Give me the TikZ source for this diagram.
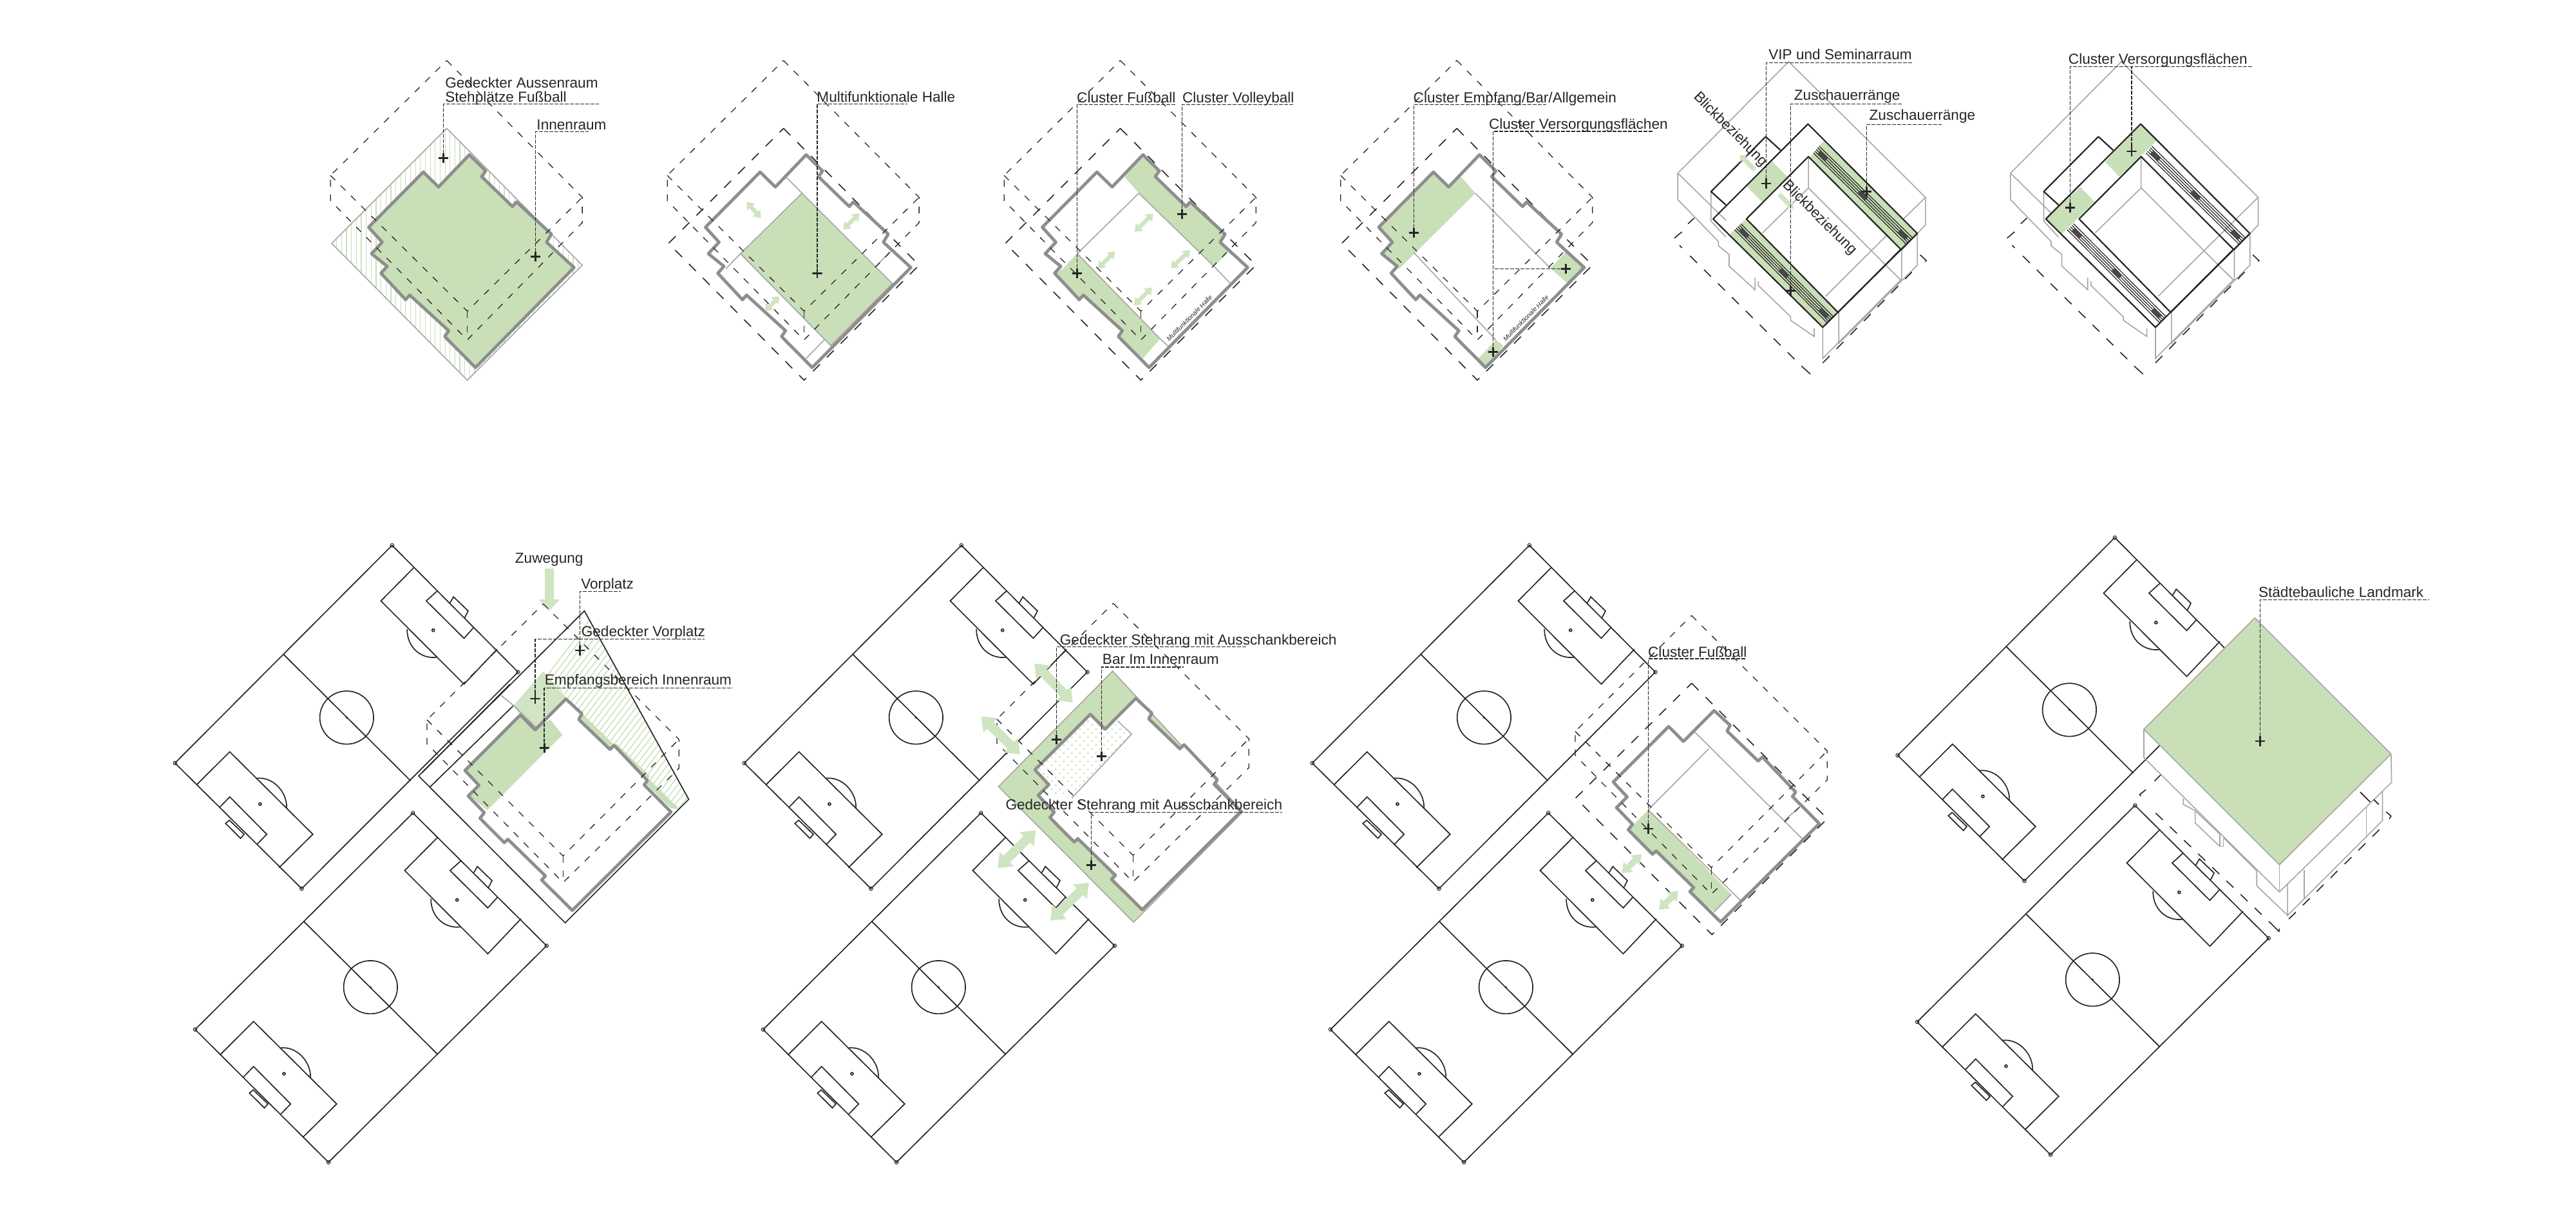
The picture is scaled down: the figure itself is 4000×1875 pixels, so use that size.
\documentclass[tikz,border=0pt]{standalone}
\usepackage{fontspec}
\setmainfont{Liberation Sans}
\usetikzlibrary{arrows.meta,calc}
\definecolor{gfill}{HTML}{C9DFB8}
\definecolor{garrow}{HTML}{CFE4C0}
\definecolor{bgrey}{HTML}{8E8E8E}
\definecolor{tgrey}{HTML}{A6A6A6}
\definecolor{ink}{HTML}{262626}
\tikzset{
 zA/.style={x=0.15944pt,y=-0.08929pt},
 zD/.style={x=0.13550pt,y=-0.15625pt},
 zE/.style={x=0.11161pt,y=-0.08929pt},
 zF/.style={x=0.09568pt,y=-0.09568pt},
 zG/.style={x=0.08333pt,y=-0.08621pt},
 wall/.style={draw=bgrey,line width=1.2pt,line join=round},
 thin grey/.style={draw=tgrey,line width=.4pt},
 dashup/.style={draw=ink,line width=.32pt,dash pattern=on 2.6pt off 3pt},
 dashlong/.style={draw=ink,line width=.4pt,dash pattern=on 3.8pt off 3.8pt},
 pitchline/.style={draw=ink,line width=.42pt},
 frame/.style={draw=ink,line width=.55pt,line join=round},
 leader/.style={draw=ink,line width=.34pt,dash pattern=on 1.5pt off .5pt},
 lab/.style={inner sep=0pt,text=ink,font=\fontsize{5.65}{6.5}\selectfont},
 crossmark/.style={inner sep=0pt,minimum size=3.8pt,path picture={
   \draw[ink,line width=.7pt] (path picture bounding box.north)--(path picture bounding box.south)
     (path picture bounding box.west)--(path picture bounding box.east);}},
 arrS/.style={draw=garrow,line width=1.6pt,{Triangle[width=3.8pt,length=2.6pt]}-{Triangle[width=3.8pt,length=2.6pt]}},
 arrM/.style={draw=garrow,line width=2.4pt,{Triangle[width=5pt,length=3.5pt]}-{Triangle[width=5pt,length=3.5pt]}},
 arrL/.style={draw=garrow,line width=3.6pt,{Triangle[width=7.5pt,length=5pt]}-{Triangle[width=7.5pt,length=5pt]}},
}
% name, x, y, elbow y, end x, text, text x, baseline y
\newcommand{\callout}[8]{%
 \node[crossmark] (#1) at (#2,#3) {};
 \coordinate (#1e) at (#5,#4);
 \draw[leader] (#1.center) |- (#1e);
 \node[lab,anchor=base west] (#1t) at (#7,#8) {#6};
}
% top row building, panel-local coordinates
\newcommand{\bldA}[1]{\path[#1] (390,505)--(430,575)--(420,600)--(495,730)--(505,710)--(590,850)--(578,885)--(645,995)--(405,1430)--(330,1295)--(340,1270)--(245,1115)--(235,1135)--(175,1020)--(190,990)--(152,935)--(178,885)--(145,820)--(278,580)--(315,645)--cycle;}
\newcommand{\dashA}{%
 \draw[dashup] (335,95)--(665,690)--(665,800)--(385,1310)--(52,705)--(52,595)--cycle;
 \draw[dashup] (52,595)--(385,1185)--(665,690);
 \draw[dashup] (385,1185)--(385,1310);}
\newcommand{\groundA}{\draw[dashlong] (335,390)--(665,985)--(385,1485)--(55,890)--cycle;}
% bottom row building
\newcommand{\bldB}[1]{\path[#1] (725,503)--(800,570)--(785,595)--(930,730)--(950,712)--(1105,870)--(1090,890)--(1215,1012)--(755,1455)--(612,1318)--(630,1300)--(455,1135)--(438,1150)--(325,1040)--(345,1015)--(270,940)--(320,892)--(255,825)--(513,575)--(582,642)--cycle;}
\newcommand{\dashB}{%
 \draw[dashup] (620,75)--(1252,685)--(1252,815)--(712,1330)--(78,705)--(78,597)--cycle;
 \draw[dashup] (78,597)--(712,1210)--(1252,685);
 \draw[dashup] (712,1210)--(712,1330);}
% football pitch: outer corners and centre line differ between the two pitches
\newcommand{\pitch}[6]{%
 \draw[pitchline] (#1)--(#2)--(#3)--(#4)--cycle;
 \draw[pitchline] (#5)--(#6);
 \draw[pitchline] (532,455) circle (77 and 66);
 \fill[ink] (532,455) circle[radius=.45pt];
 \draw[pitchline] (725,82)--(630,165)--(868,372)--(963,285);
 \draw[pitchline] (792,140)--(760,165)--(868,258)--(895,232);
 \draw[pitchline] (828,170)--(838,155)--(880,190)--(870,207);
 \draw[pitchline] (780,238) circle[radius=.5pt];
 \draw[pitchline] (705,235) .. controls (705,285) and (750,310) .. (790,305);
 \draw[pitchline] (102,622)--(197,540)--(435,745)--(338,828);
 \draw[pitchline] (168,678)--(197,652)--(303,745)--(275,770);
 \draw[pitchline] (185,718)--(196,710)--(238,745)--(228,755)--cycle;
 \draw[pitchline] (284,670) circle[radius=.5pt];
 \draw[pitchline] (272,606) .. controls (320,600) and (362,640) .. (360,680);
 \draw[pitchline,line width=.25pt] (#1) circle[radius=.7pt] (#2) circle[radius=.7pt] (#3) circle[radius=.7pt] (#4) circle[radius=.7pt];
}
\newcommand{\pitchUpper}{\pitch{662,27}{1023,342}{403,880}{40,568}{350,297}{715,612}}
\newcommand{\pitchLower}{\pitch{653.5,22}{1036.5,352}{411.5,890}{29.5,560}{341.5,292}{724.5,622}}
% stand seating lines: ax ay bx by ox oy
\newcommand{\tribune}[6]{%
 \foreach \k in {-.2,-.1,0,.1,.2}{\draw[draw=ink,line width=.3pt] ({#1+\k*#5},{#2+\k*#6})--({#3+\k*#5},{#4+\k*#6});}
 \foreach \ta/\tb in {.03/.11,.46/.54,.89/.97}{\draw[draw=ink!85,line width=1.7pt] ({#1+\ta*(#3-#1)},{#2+\ta*(#4-#2)})--({#1+\tb*(#3-#1)},{#2+\tb*(#4-#2)});}
}
% roofed stadium
\newcommand{\roofbase}{%
 \draw[thin grey] (165,585)--(435,100)--(768,690)--(768,810)--(710,920);
 \draw[thin grey] (768,690)--(635,924)--(525,1120);
 \draw[thin grey] (165,585)--(165,700)--(264,882)--(264,901)--(290,938)--(290,989)--(353,1092)--(353,1040);
 \draw[thin grey] (165,585)--(282,790);
 \draw[thin grey] (361,1055)--(361,1073)--(440,1210)--(440,1225)--(497,1295)--(497,1260);
 \draw[thin grey] (246,667)--(246,793)--(282,863);
 \draw[thin grey] (483,513)--(483,649)--(708,1050);
 \draw[thin grey] (483,649)--(371,845);
 \draw[thin grey] (710,915)--(710,1045)--(518,1390)--(518,1255);
 \draw[thin grey] (748,845)--(748,985)--(557,1325)--(557,1190);
 \draw[dashlong] (175,840)--(155,870)--(175,910);
 \draw[dashlong] (195,945)--(470,1430);
 \draw[dashlong] (470,1430)--(490,1462)--(498,1440);
 \draw[dashlong] (518,1410)--(735,1015);
 \draw[dashlong] (755,940)--(770,965)--(757,985);
 \draw[dashlong] (190,805)--(205,780);
}
\newcommand{\roofframe}{%
 \draw[frame] (379,426)--(415,485);
 \draw[frame] (379,426)--(246,665)--(282,723);
 \draw[frame] (482,371)--(748,847)--(518,1255)--(251,784)--cycle;
 \draw[frame] (483,513)--(708,916)--(555,1190)--(332,784)--cycle;
}
\begin{document}
\begin{tikzpicture}[x=.25pt,y=-.25pt]
\useasboundingbox (0,0) rectangle (4000,1875);
\fill[white] (0,0) rectangle (4000,1875);

%%%%% Panel 1
\begin{scope}[shift={(480,60)},zA]
 \begin{scope}
  \clip (335,390)--(665,985)--(385,1485)--(55,890)--cycle;
  \foreach \vx in {55,67,...,670}{\draw[gfill,line width=.3pt] (\vx,380)--(\vx,1490);}
 \end{scope}
 \draw[thin grey] (335,390)--(665,985)--(385,1485)--(55,890)--cycle;
 \bldA{fill=gfill,wall}
 \dashA
 \callout{pa}{327}{520}{285}{705}{Stehplätze Fußball}{330}{275}
 \node[lab,anchor=base west] (paTop) at (330,213) {Gedeckter Aussenraum};
 \callout{pb}{551}{948}{405}{680}{Innenraum}{553}{395}
\end{scope}

%%%%% Panel 2
\begin{scope}[shift={(1003,60)},zA]
 \groundA
 \path[fill=gfill] (380,672)--(600,1065)--(450,1335)--(230,935)--cycle;
 \draw[thin grey] (340,600)--(380,672)--(600,1065)--(450,1335)--(230,935)--(380,672);
 \draw[thin grey] (595,925)--(560,990);
 \draw[thin grey] (390,1390)--(434,1310);
 \draw[thin grey] (195,1000)--(230,935);
 \bldA{wall}
 \draw[arrS] (245,710)--(280,780);
 \draw[arrS] (480,830)--(520,760);
 \draw[arrS] (290,1185)--(325,1120);
 \dashA
 \callout{pc}{417}{1020}{285}{637}{Multifunktionale Halle}{415}{276}
\end{scope}

%%%%% Panel 3
\begin{scope}[shift={(1526,60)},zA]
 \groundA
 \path[fill=gfill] (390,505)--(430,575)--(420,600)--(495,730)--(505,710)--(590,850)--(578,885)--(600,925)--(563,990)--(380,672)--(345,600)--cycle;
 \path[fill=gfill] (230,935)--(432,1305)--(390,1390)--(330,1295)--(340,1270)--(245,1115)--(235,1135)--(178,1020)--(195,1000)--cycle;
 \draw[thin grey] (230,935)--(380,672);
 \draw[thin grey] (380,672)--(563,990)--(603,1065);
 \draw[thin grey] (230,935)--(432,1305)--(450,1335);
 \bldA{wall}
 \draw[arrS] (370,840)--(415,760);
 \draw[arrS] (280,1000)--(322,925);
 \draw[arrS] (458,998)--(505,920);
 \draw[arrS] (368,1160)--(412,1082);
 \dashA
 \callout{pd}{230}{1020}{287}{468}{Cluster Fußball}{228}{278}
 \callout{pe}{485}{762}{287}{755}{Cluster Volleyball}{485}{278}
 \node[inner sep=0pt,text=ink,rotate=45,font=\fontsize{2.5}{3}\itshape\selectfont] (pmh) at (503,1215) {Multifunktionale Halle};
\end{scope}

%%%%% Panel 4
\begin{scope}[shift={(2048.5,60)},zA]
 \groundA
 \path[fill=gfill] (280,578)--(318,645)--(345,600)--(380,672)--(195,1000)--(152,935)--(180,885)--(143,820)--cycle;
 \path[fill=gfill] (600,928)--(645,995)--(605,1065)--(563,998)--cycle;
 \path[fill=gfill] (448,1335)--(405,1430)--(388,1390)--(430,1310)--cycle;
 \draw[thin grey] (380,672)--(563,998);
 \draw[thin grey] (230,930)--(430,1310);
 \bldA{wall}
 \dashA
 \callout{pf}{230}{845}{287}{552}{Cluster Empfang/Bar/Allgemein}{228}{278}
 \callout{pg}{423}{1362}{403}{814}{Cluster Versorgungsflächen}{412}{392}
 \node[crossmark] (ph) at (600,1000) {};
 \coordinate (phe) at (423,1000);
 \draw[leader] (ph.center)--(phe);
 \node[inner sep=0pt,text=ink,rotate=45,font=\fontsize{2.5}{3}\itshape\selectfont] (pmi) at (503,1215) {Multifunktionale Halle};
\end{scope}

%%%%% Panel 5
\begin{scope}[shift={(2500,60)},zA]
 \roofbase
 \path[fill=gfill] (395,535)--(432,600)--(370,710)--(332,640)--cycle;
 \path[fill=gfill] (520,445)--(748,845)--(710,915)--(485,520)--cycle;
 \path[fill=gfill] (330,785)--(555,1190)--(518,1255)--(292,850)--cycle;
 \tribune{502}{482}{729}{880}{35}{-75}
 \tribune{311}{818}{536}{1222}{38}{-65}
 \roofframe
 \draw[draw=garrow,line width=1.8pt,-{Triangle[width=3.4pt,length=2.2pt]}] (352,570)--(316,505);
 \draw[draw=garrow,line width=1.8pt,-{Triangle[width=3.4pt,length=2.2pt]}] (412,677)--(447,740);
 \callout{pi}{380}{630}{105}{735}{VIP und Seminarraum}{385}{90}
 \callout{pj}{440}{1095}{285}{710}{Zuschauerränge}{447}{268}
 \callout{pk}{625}{665}{373}{808}{Zuschauerränge}{630}{355}
 \node[lab,rotate=-45] (pbl) at (293,395) {Blickbeziehung};
 \node[lab,rotate=-45] (pbm) at (510,780) {Blickbeziehung};
\end{scope}

%%%%% Panel 6
\begin{scope}[shift={(3016.6,60)},zA]
 \roofbase
 \path[fill=gfill] (482,370)--(520,445)--(430,600)--(395,535)--cycle;
 \path[fill=gfill] (335,645)--(370,710)--(290,850)--(252,780)--cycle;
 \tribune{502}{482}{729}{880}{35}{-75}
 \tribune{311}{818}{536}{1222}{38}{-65}
 \roofframe
 \callout{pl}{310}{735}{122}{755}{Cluster Versorgungsflächen}{305}{110}
 \node[crossmark] (pm) at (460,490) {};
 \coordinate (pme) at (460,122);
 \draw[leader] (pm.center)--(pme);
\end{scope}

%%%%% Bottom row pitches
\foreach \ax/\ay/\bx/\by in {0/0/37/418.75, 884/0/919/418.75, 1766/0/1800/418.75, 2675/-12/2711/407}{
 \begin{scope}[shift={(250+\ax,830+\ay)},zD]\pitchUpper\end{scope}
 \begin{scope}[shift={(250+\bx,830+\by)},zD]\pitchLower\end{scope}
}

%%%%% Panel 7
\begin{scope}[shift={(250,830)},zD]
 \begin{scope}
  \clip (975,400)--(1213,190)--(1512,658)--(1482,688)--(1160,405)--(1095,340)--(1010,425)--cycle;
  \foreach \hh in {0,18,...,1800}{\draw[gfill,line width=.35pt] (800+\hh,700)--(1300+\hh,130);}
 \end{scope}
 \path[fill=gfill] (1205,445)--(1195,458)--(1295,535)--(1305,520)--(1400,600)--(1390,620)--(1460,680)--(1485,682)--(1160,405)--cycle;
 \path[fill=gfill!85!white] (1010,425)--(1095,340)--(1160,405)--(1075,480)--(1030,450)--cycle;
 \path[fill=gfill] (1030,450)--(1075,480)--(1115,460)--(1150,498)--(935,685)--(885,650)--(915,625)--(875,585)--cycle;
 \draw[pitchline] (738,600)--(1158,965)--(1512,658)--(1213,190)--cycle;
 \draw[pitchline] (748,592)--(1000,372);
 \draw[pitchline] (770,628)--(1010,425);
 \draw[pitchline,draw=tgrey] (975,400)--(1010,425)--(1075,480);
 \draw[draw=garrow,line width=3.5pt,-{Triangle[width=8pt,length=4.5pt]}] (1112,85)--(1112,190);
\end{scope}
\begin{scope}[shift={(637,912)},zG]
 \bldB{wall}
 \dashB
\end{scope}
\begin{scope}[shift={(250,830)},zD]
 \node[lab,anchor=center] (qz) at (1112,62) {Zuwegung};
 \callout{qa}{1200}{288}{142}{1318}{Vorplatz}{1202}{135}
 \callout{qb}{1072}{408}{260}{1558}{Gedeckter Vorplatz}{1203}{253}
 \callout{qc}{1098}{530}{382}{1638}{Empfangsbereich Innenraum}{1098}{373}
\end{scope}

%%%%% Panel 8
\begin{scope}[shift={(1450,900)},zE]
 \path[fill=gfill,draw=tgrey,line width=.4pt] (622,398)--(1075,1010)--(695,1490)--(225,900)--cycle;
\end{scope}
\begin{scope}[shift={(1522,911)},zG]
 \bldB{fill=white}
\end{scope}
\begin{scope}[shift={(1450,900)},zE]
 \begin{scope}
  \clip (545,585)--(595,650)--(640,615)--(688,672)--(480,950)--(365,935)--(403,890)--(352,825)--cycle;
  \foreach \i in {0,...,14}{\foreach \j in {0,...,26}{
    \fill[gfill] ({340+\i*28+mod(\j,2)*14},{580+\j*17.5}) circle[radius=.4pt];}}
 \end{scope}
 \draw[thin grey] (640,615)--(688,672)--(480,950);
\end{scope}
\begin{scope}[shift={(1522,911)},zG]
 \bldB{wall}
 \dashB
\end{scope}
\begin{scope}[shift={(1450,900)},zE]
 \draw[arrL] (350,365)--(483,535);
 \draw[arrL] (165,595)--(300,760);
 \draw[arrL] (355,1090)--(222,1255);
 \draw[arrL] (540,1318)--(405,1483);
 \callout{ra}{427}{695}{293}{1090}{Gedeckter Stehrang mit Ausschankbereich}{437}{285}
 \callout{rb}{583}{768}{381}{868}{Bar Im Innenraum}{585}{368}
 \callout{rc}{547}{1242}{1012}{1212}{Gedeckter Stehrang mit Ausschankbereich}{248}{1000}
\end{scope}

%%%%% Panel 9
\begin{scope}[shift={(2420,930)},zG]
 \path[fill=gfill] (418,950)--(805,1330)--(725,1410)--(612,1318)--(630,1300)--(455,1135)--(438,1150)--(325,1040)--cycle;
 \draw[thin grey] (418,950)--(700,675);
 \draw[thin grey] (635,600)--(1135,1080);
 \draw[thin grey] (418,950)--(850,1360);
 \draw[thin grey] (725,1410)--(805,1330);
 \draw[thin grey] (1125,935)--(1050,1000);
 \bldB{wall}
 \draw[dashlong] (620,380)--(1252,990)--(715,1512)--(80,897)--cycle;
 \dashB
 \draw[arrM] (295,1235)--(388,1150);
 \draw[arrM] (468,1400)--(558,1315);
 \callout{sa}{418}{1035}{270}{870}{Cluster Fußball}{415}{262}
\end{scope}

%%%%% Panel 10
\begin{scope}[shift={(3200,880)},zF]
 \draw[thin grey] (337,660)--(337,775)--(887,1320)--(1342,875)--(1340,760);
 \draw[thin grey] (887,1210)--(887,1320);
 \draw[thin grey] (1305,910)--(1305,1030)--(920,1415)--(920,1290);
 \draw[thin grey] (987,1230)--(987,1345);
 \draw[thin grey] (1240,975)--(1240,1095);
 \draw[thin grey] (795,1235)--(795,1295)--(920,1415);
 \draw[thin grey] (660,1100)--(795,1235);
 \draw[thin grey] (660,1100)--(660,1135)--(645,1135)--(645,1085);
 \draw[thin grey] (645,1135)--(545,1040)--(545,990)--(497,965)--(497,940);
 \draw[thin grey] (545,990)--(645,1085);
 \path[fill=gfill,draw=tgrey,line width=.4pt] (787,208)--(1340,760)--(887,1210)--(337,660)--cycle;
 \draw[dashlong] (345,905)--(320,925)--(350,960);
 \draw[dashlong] (385,1000)--(865,1460);
 \draw[dashlong] (865,1460)--(885,1480)--(888,1465);
 \draw[dashlong] (925,1430)--(1320,1040);
 \draw[dashlong] (1320,995)--(1340,1012)--(1325,1035);
 \draw[pitchline] (1215,915)--(1255,955);
 \draw[pitchline] (1270,945)--(1290,965);
 \draw[pitchline] (380,870)--(405,845);
 \callout{ta}{808}{708}{135}{1495}{Städtebauliche Landmark}{800}{125}
\end{scope}
\end{tikzpicture}
\end{document}
